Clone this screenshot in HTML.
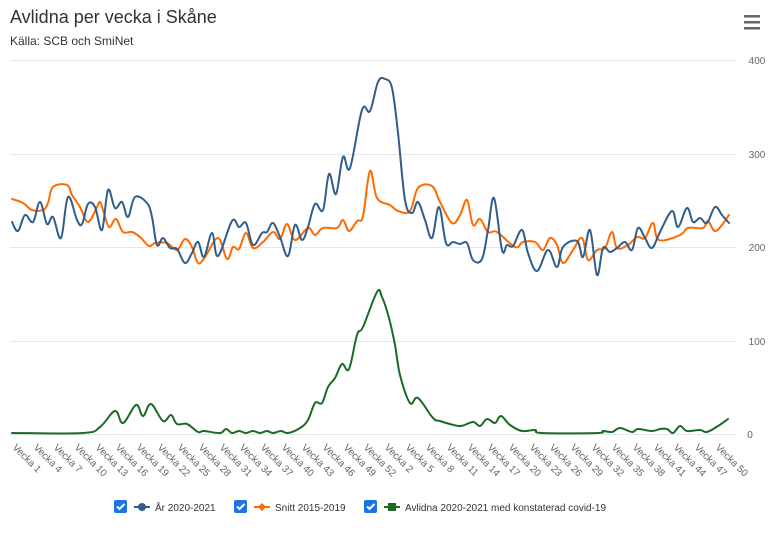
<!DOCTYPE html>
<html><head><meta charset="utf-8"><style>
body{margin:0;background:#fff;width:776px;height:530px;overflow:hidden;font-family:"Liberation Sans",Arial,sans-serif}
</style></head><body>
<svg id="s" width="776" height="530" xmlns="http://www.w3.org/2000/svg" font-family="Liberation Sans, Arial, sans-serif">
<text x="10" y="23" font-size="18" fill="#333">Avlidna per vecka i Skåne</text>
<text x="10" y="45" font-size="12" fill="#333">Källa: SCB och SmiNet</text>
<g fill="#666"><rect x="744" y="15" width="16" height="2.5"/><rect x="744" y="21" width="16" height="2.5"/><rect x="744" y="27" width="16" height="2.5"/></g>
<g stroke="#e6e6e6" stroke-width="1"><line x1="10" x2="735" y1="60.5" y2="60.5"/><line x1="10" x2="735" y1="154.5" y2="154.5"/><line x1="10" x2="735" y1="247.5" y2="247.5"/><line x1="10" x2="735" y1="341.5" y2="341.5"/><line x1="10" x2="735" y1="434.5" y2="434.5"/></g>
<g font-size="10" fill="#666" text-anchor="middle"><text x="757" y="64">400</text><text x="757" y="158">300</text><text x="757" y="251">200</text><text x="757" y="345">100</text><text x="750" y="438">0</text></g>
<g fill="none" stroke-width="2" stroke-linejoin="round" stroke-linecap="round">
<polyline class="sm" stroke="#ff6a00" points="12,199 23,203 32,210 43,210 48,203 53,187 67,185 72,195 80,207 88,222 97,207 100,202 103,210 109,227 116,219 123,232 132,232 140,237 149,246 155,243 167,243 177,250 185,239 192,247 198,263 205,257 218,238 227,259 233,247 239,249 246,233 253,248 263,242 273,232 280,239 287,224 295,240 308,228 315,235 323,228 337,228 343,220 349,231 357,221 363,216 370,171 377,198 390,205 398,211 410,211 418,188 432,186 440,202 452,223 460,215 467,200 473,225 480,219 488,232 497,232 515,247 523,242 535,242 543,250 550,238 557,245 563,263 573,250 582,238 588,260 597,250 605,248 612,232 617,248 628,245 637,237 645,238 653,223 659,240 680,235 688,228 703,228 708,221 716,231 729,215"/>
<polyline class="sm" stroke="#2f5d8c" points="12,222 18,231 25,215 33,222 40,202 47,224 53,217 61,238 68,197 77,220 82,224 88,204 95,207 102,230 108,190 115,208 122,202 128,217 135,197 147,203 152,217 157,245 163,238 170,248 177,249 185,263 192,253 198,242 204,257 212,233 218,256 232,221 239,227 246,223 253,245 262,233 267,232 273,223 280,237 288,256 295,225 302,240 308,227 315,204 323,210 329,174 336,194 343,157 350,168 362,110 370,111 378,82 385,79 392,88 398,133 405,200 412,213 418,202 425,220 432,238 439,207 446,243 453,242 460,244 467,243 473,260 482,259 488,230 494,198 502,250 507,245 513,246 522,230 528,253 537,271 548,250 557,267 563,247 577,241 583,257 590,230 597,275 603,248 610,252 617,248 625,242 632,250 638,228 645,238 652,248 660,232 672,211 678,227 687,208 693,222 700,218 707,223 715,207 722,215 729,223"/>
<polyline class="sm" stroke="#1d6a27" points="12,433 83,433 100,427 115,411 123,423 136,405 143,416 151,404 163,421 171,415 177,424 187,424 198,432 204,431 220,433 226,429 232,433 239,431 246,433 253,431 260,433 267,431 273,433 281,431 288,433 300,428 308,420 315,403 322,403 328,387 335,378 342,364 349,369 357,335 363,327 377,292 382,297 389,318 395,345 400,375 410,403 418,398 433,418 440,421 450,424 461,426 473,422 480,426 487,419 495,423 501,416 510,425 522,431 535,430 542,433 597,433 603,431 612,432 620,428 632,432 638,429 652,431 660,429 667,429 673,433 680,426 687,431 700,430 707,432 718,426 728,419"/>
</g>
<g font-size="10" fill="#666">
<text transform="translate(12,448) rotate(45)">Vecka 1</text>
<text transform="translate(33,448) rotate(45)">Vecka 4</text>
<text transform="translate(53,448) rotate(45)">Vecka 7</text>
<text transform="translate(74,448) rotate(45)">Vecka 10</text>
<text transform="translate(95,448) rotate(45)">Vecka 13</text>
<text transform="translate(115,448) rotate(45)">Vecka 16</text>
<text transform="translate(136,448) rotate(45)">Vecka 19</text>
<text transform="translate(157,448) rotate(45)">Vecka 22</text>
<text transform="translate(177,448) rotate(45)">Vecka 25</text>
<text transform="translate(198,448) rotate(45)">Vecka 28</text>
<text transform="translate(219,448) rotate(45)">Vecka 31</text>
<text transform="translate(239,448) rotate(45)">Vecka 34</text>
<text transform="translate(260,448) rotate(45)">Vecka 37</text>
<text transform="translate(281,448) rotate(45)">Vecka 40</text>
<text transform="translate(301,448) rotate(45)">Vecka 43</text>
<text transform="translate(322,448) rotate(45)">Vecka 46</text>
<text transform="translate(343,448) rotate(45)">Vecka 49</text>
<text transform="translate(363,448) rotate(45)">Vecka 52</text>
<text transform="translate(384,448) rotate(45)">Vecka 2</text>
<text transform="translate(405,448) rotate(45)">Vecka 5</text>
<text transform="translate(425,448) rotate(45)">Vecka 8</text>
<text transform="translate(446,448) rotate(45)">Vecka 11</text>
<text transform="translate(467,448) rotate(45)">Vecka 14</text>
<text transform="translate(487,448) rotate(45)">Vecka 17</text>
<text transform="translate(508,448) rotate(45)">Vecka 20</text>
<text transform="translate(529,448) rotate(45)">Vecka 23</text>
<text transform="translate(549,448) rotate(45)">Vecka 26</text>
<text transform="translate(570,448) rotate(45)">Vecka 29</text>
<text transform="translate(591,448) rotate(45)">Vecka 32</text>
<text transform="translate(611,448) rotate(45)">Vecka 35</text>
<text transform="translate(632,448) rotate(45)">Vecka 38</text>
<text transform="translate(653,448) rotate(45)">Vecka 41</text>
<text transform="translate(673,448) rotate(45)">Vecka 44</text>
<text transform="translate(694,448) rotate(45)">Vecka 47</text>
<text transform="translate(715,448) rotate(45)">Vecka 50</text>
</g>
<g font-size="10" fill="#333">
<rect x="114" y="500" width="13" height="13" rx="2" fill="#1a73e8"/><path d="M117 506.5l2.5 2.5 5-5" stroke="#fff" stroke-width="2" fill="none"/>
<line x1="134" x2="150" y1="507" y2="507" stroke="#2f5d8c" stroke-width="2"/><circle cx="142" cy="507" r="4" fill="#2f5d8c"/>
<text x="155" y="511">År 2020-2021</text>
<rect x="234" y="500" width="13" height="13" rx="2" fill="#1a73e8"/><path d="M237 506.5l2.5 2.5 5-5" stroke="#fff" stroke-width="2" fill="none"/>
<line x1="254" x2="270" y1="507" y2="507" stroke="#ff6a00" stroke-width="2"/><path d="M262 503l4 4-4 4-4-4z" fill="#ff6a00"/>
<text x="275" y="511">Snitt 2015-2019</text>
<rect x="364" y="500" width="13" height="13" rx="2" fill="#1a73e8"/><path d="M367 506.5l2.5 2.5 5-5" stroke="#fff" stroke-width="2" fill="none"/>
<line x1="384" x2="400" y1="507" y2="507" stroke="#1d6a27" stroke-width="2"/><rect x="388" y="503" width="8" height="8" fill="#1d6a27"/>
<text x="405" y="511">Avlidna 2020-2021 med konstaterad covid-19</text>
</g>
</svg>
<script>
document.querySelectorAll('polyline.sm').forEach(function(pl){
  var p=pl.getAttribute('points').trim().split(/\s+/).map(function(s){return s.split(',').map(Number);});
  var d='M'+p[0][0]+' '+p[0][1];
  for(var i=0;i<p.length-1;i++){
    var p0=p[i-1]||p[i],p1=p[i],p2=p[i+1],p3=p[i+2]||p2,t=0.18*1.0;
    var c1x=p1[0]+(p2[0]-p0[0])*t,c1y=p1[1]+(p2[1]-p0[1])*t,c2x=p2[0]-(p3[0]-p1[0])*t,c2y=p2[1]-(p3[1]-p1[1])*t;
    d+=' C'+c1x.toFixed(1)+' '+c1y.toFixed(1)+' '+c2x.toFixed(1)+' '+c2y.toFixed(1)+' '+p2[0]+' '+p2[1];
  }
  var path=document.createElementNS('http://www.w3.org/2000/svg','path');
  path.setAttribute('d',d);path.setAttribute('stroke',pl.getAttribute('stroke'));
  pl.parentNode.replaceChild(path,pl);
});
</script>
</body></html>
